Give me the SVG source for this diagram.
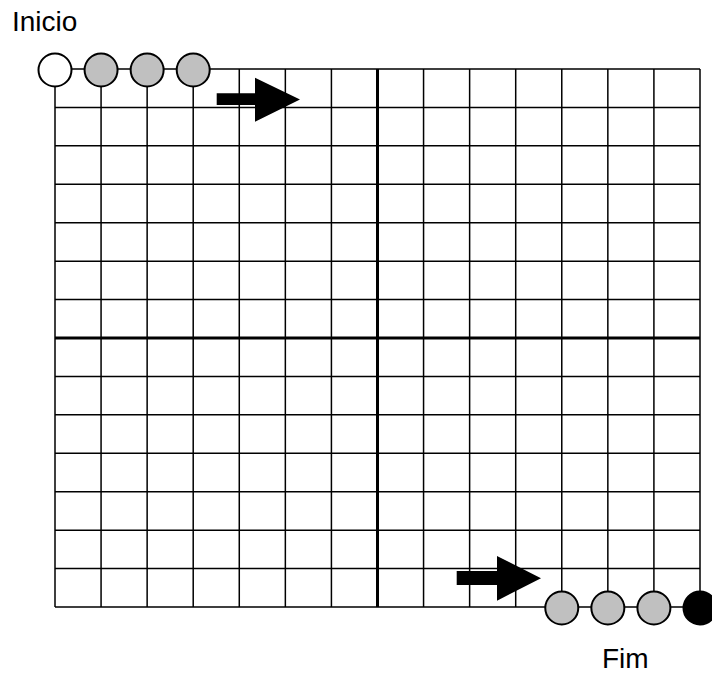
<svg xmlns="http://www.w3.org/2000/svg" width="712" height="675" viewBox="0 0 712 675">
<style>
.g{stroke:#000;stroke-width:1.5;fill:none}
.t{stroke:#000;stroke-width:3;fill:none}
.c{stroke:#000;stroke-width:2}
.lbl{font-family:"Liberation Sans",Arial,sans-serif;font-size:28px;fill:#000}
</style>
<rect width="712" height="675" fill="#fff"/>
<g id="grid">
<path class="g" d="M55,69V607M101.07,69V607M147.14,69V607M193.21,69V607M239.28,69V607M285.35,69V607M331.42,69V607M423.56,69V607M469.63,69V607M515.7,69V607M561.77,69V607M607.84,69V607M653.91,69V607M700,69V607"/>
<path class="g" d="M55,69H700M55,107.43H700M55,145.86H700M55,184.29H700M55,222.71H700M55,261.14H700M55,299.57H700M55,376.43H700M55,414.86H700M55,453.29H700M55,491.71H700M55,530.14H700M55,568.57H700M55,607H700"/>
<path class="t" d="M377.5,69V607M55,338H700"/>
</g>
<g id="connectors">
<polygon points="216.7,93.3 255,93.3 255,77.7 300,99.5 255,121.7 255,105 216.7,105" fill="#000"/>
<polygon points="456.7,571 497,571 497,556 541,578.3 497,600.7 497,585 456.7,585" fill="#000"/>
</g>
<g id="start-nodes">
<circle class="c" cx="55" cy="70" r="16.5" fill="#fff"/>
<circle class="c" cx="101.07" cy="70" r="16.5" fill="#c0c0c0"/>
<circle class="c" cx="147.14" cy="70" r="16.5" fill="#c0c0c0"/>
<circle class="c" cx="193.21" cy="70" r="16.5" fill="#c0c0c0"/>
</g>
<g id="end-nodes">
<circle class="c" cx="561.77" cy="608" r="16.5" fill="#c0c0c0"/>
<circle class="c" cx="607.84" cy="608" r="16.5" fill="#c0c0c0"/>
<circle class="c" cx="653.91" cy="608" r="16.5" fill="#c0c0c0"/>
<circle class="c" cx="700" cy="608" r="16.5" fill="#000"/>
</g>
<g id="labels">
<text class="lbl" x="12" y="31">Inicio</text>
<text class="lbl" x="602" y="668">Fim</text>
</g>
</svg>
